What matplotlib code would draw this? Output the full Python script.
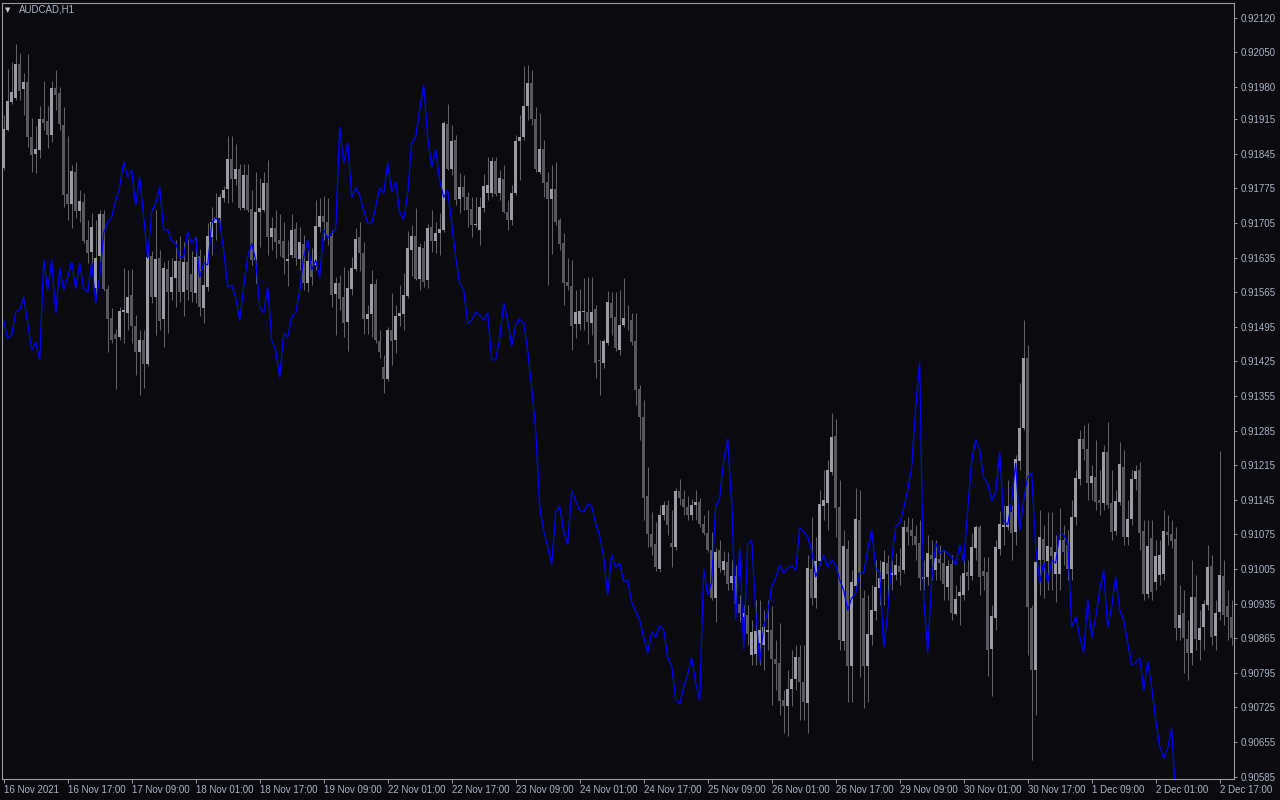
import matplotlib
matplotlib.use("Agg")
import matplotlib.pyplot as plt
import numpy as np

# AUDCAD H1 candles, prices in points (1e-5)
open_pts = [
    91817, 91893, 91950, 91958, 92027, 91976, 91990, 91879, 91845, 91853,
    91915, 91911, 91883, 91978, 91968, 91903, 91763, 91743, 91809, 91729,
    91747, 91670, 91646, 91573, 91638, 91723, 91571, 91513, 91480, 91474,
    91525, 91523, 91559, 91496, 91444, 91468, 91420, 91638, 91555, 91634,
    91511, 91612, 91565, 91593, 91628, 91565, 91626, 91602, 91563, 91638,
    91533, 91575, 91676, 91705, 91715, 91755, 91773, 91834, 91794, 91814,
    91735, 91802, 91733, 91630, 91727, 91731, 91786, 91676, 91695, 91670,
    91668, 91628, 91640, 91693, 91632, 91662, 91583, 91628, 91620, 91697,
    91719, 91707, 91678, 91561, 91583, 91555, 91504, 91571, 91612, 91676,
    91644, 91511, 91521, 91581, 91466, 91414, 91389, 91488, 91468, 91517,
    91521, 91557, 91650, 91678, 91592, 91654, 91589, 91697, 91668, 91684,
    91691, 91905, 91814, 91873, 91753, 91778, 91757, 91733, 91701, 91691,
    91735, 91766, 91766, 91830, 91766, 91794, 91727, 91711, 91766, 91871,
    91879, 91942, 91988, 91915, 91808, 91855, 91788, 91753, 91774, 91711,
    91664, 91585, 91577, 91500, 91500, 91525, 91525, 91502, 91531, 91428,
    91422, 91462, 91543, 91515, 91448, 91498, 91509, 91509, 91466, 91369,
    91312, 91152, 91076, 91055, 91005, 91114, 91134, 91057, 91049, 91163,
    91146, 91130, 91114, 91134, 91140, 91096, 91078, 91043, 90946, 91043,
    91003, 91019, 90977, 90991, 90934, 90908, 90912, 90831, 90833, 90855,
    90851, 90878, 90882, 90823, 90815, 90740, 90728, 90762, 90782, 90827,
    90776, 90734, 91005, 90946, 91021, 91132, 91138, 91201, 91274, 91130,
    90859, 91045, 90809, 90970, 91104, 90946, 90809, 90871, 90920, 90966,
    90985, 91017, 90993, 90993, 91011, 91003, 91090, 91084, 91072, 91057,
    90985, 90989, 91033, 91003, 91025, 91017, 90969, 91015, 90914, 90950,
    90952, 90999, 90991, 91047, 91090, 91001, 90999, 90843, 90906, 91045,
    91090, 91090, 91120, 91080, 91223, 91290, 91432, 90926, 90801, 91023,
    91065, 91021, 91049, 90995, 90995, 91063, 91053, 91005, 91110, 91187,
    91268, 91248, 91179, 91191, 91144, 91138, 91242, 91138, 91082, 91140,
    91211, 91070, 91106, 91187, 91205, 91082, 90954, 91067, 90978, 90993,
    90995, 91080, 91076, 91065, 90886, 90916, 90863, 90835, 90948, 90861,
    90888, 90932, 91011, 90869, 90918, 90991, 90930, 90908,
]
high_pts = [
    91924, 92017, 92031, 92067, 92049, 92008, 92047, 91918, 91901, 91942,
    91992, 91942, 91992, 92014, 91980, 91940, 91881, 91822, 91828, 91772,
    91765, 91711, 91725, 91711, 91731, 91731, 91579, 91533, 91490, 91535,
    91614, 91610, 91612, 91519, 91488, 91488, 91646, 91648, 91731, 91650,
    91626, 91630, 91634, 91670, 91678, 91666, 91672, 91648, 91676, 91652,
    91640, 91705, 91737, 91765, 91765, 91779, 91881, 91881, 91865, 91824,
    91824, 91824, 91772, 91808, 91796, 91808, 91832, 91717, 91731, 91723,
    91707, 91670, 91723, 91707, 91697, 91680, 91650, 91654, 91751, 91755,
    91759, 91755, 91691, 91595, 91599, 91616, 91610, 91636, 91695, 91707,
    91666, 91539, 91610, 91591, 91488, 91438, 91494, 91563, 91539, 91579,
    91604, 91689, 91701, 91735, 91664, 91668, 91703, 91731, 91707, 91725,
    91912, 91946, 91903, 91883, 91806, 91802, 91768, 91757, 91757, 91757,
    91804, 91838, 91838, 91838, 91812, 91822, 91751, 91782, 91883, 91924,
    92023, 92025, 92014, 91940, 91928, 91873, 91808, 91822, 91828, 91715,
    91685, 91634, 91630, 91569, 91571, 91594, 91596, 91596, 91539, 91468,
    91470, 91567, 91565, 91565, 91569, 91594, 91539, 91523, 91523, 91377,
    91347, 91211, 91120, 91100, 91134, 91142, 91144, 91124, 91169, 91187,
    91165, 91152, 91146, 91165, 91148, 91114, 91124, 91080, 91047, 91063,
    91041, 91039, 91023, 91013, 90952, 90932, 90932, 90902, 90942, 90942,
    90922, 90942, 90930, 90861, 90896, 90760, 90801, 90841, 90851, 90851,
    90851, 91033, 91110, 91069, 91165, 91205, 91225, 91320, 91308, 91185,
    91084, 91063, 91003, 91169, 91165, 90962, 90952, 90972, 91023, 91023,
    91043, 91033, 91023, 91037, 91047, 91104, 91110, 91108, 91094, 91104,
    91023, 91074, 91063, 91063, 91053, 91043, 91023, 91033, 90972, 90993,
    91023, 91023, 91078, 91094, 91094, 91029, 91029, 90932, 91063, 91122,
    91134, 91185, 91134, 91236, 91381, 91509, 91458, 90932, 91023, 91124,
    91094, 91120, 91120, 91074, 91128, 91094, 91084, 91144, 91205, 91286,
    91296, 91300, 91215, 91266, 91205, 91256, 91302, 91205, 91165, 91262,
    91246, 91144, 91205, 91215, 91221, 91104, 91104, 91104, 91063, 91063,
    91124, 91114, 91104, 91090, 90972, 90962, 90902, 91023, 90993, 90922,
    90942, 91053, 91033, 90942, 91244, 91023, 90962, 90942,
]
low_pts = [
    91813, 91891, 91945, 91954, 91954, 91924, 91859, 91809, 91807, 91837,
    91893, 91857, 91869, 91934, 91893, 91737, 91711, 91695, 91715, 91707,
    91664, 91624, 91624, 91555, 91626, 91567, 91444, 91462, 91369, 91468,
    91462, 91488, 91462, 91397, 91357, 91371, 91416, 91543, 91478, 91488,
    91454, 91482, 91549, 91535, 91545, 91517, 91549, 91545, 91543, 91517,
    91502, 91567, 91640, 91670, 91695, 91747, 91745, 91747, 91782, 91731,
    91731, 91727, 91620, 91583, 91656, 91727, 91640, 91650, 91634, 91638,
    91602, 91577, 91634, 91620, 91610, 91569, 91565, 91579, 91610, 91687,
    91670, 91660, 91535, 91478, 91529, 91474, 91446, 91559, 91608, 91608,
    91480, 91480, 91474, 91462, 91432, 91361, 91385, 91418, 91442, 91496,
    91488, 91553, 91598, 91590, 91569, 91575, 91573, 91646, 91644, 91640,
    91687, 91812, 91802, 91741, 91725, 91731, 91697, 91677, 91697, 91660,
    91727, 91751, 91758, 91760, 91751, 91725, 91691, 91701, 91761, 91792,
    91873, 91913, 91903, 91809, 91804, 91757, 91579, 91642, 91701, 91650,
    91539, 91569, 91448, 91472, 91488, 91488, 91460, 91478, 91391, 91357,
    91412, 91458, 91478, 91446, 91438, 91494, 91488, 91458, 91337, 91266,
    91104, 91049, 91033, 91001, 90999, 91104, 91074, 91009, 91043, 91134,
    91114, 91104, 91104, 91104, 91090, 91074, 91039, 90942, 90898, 90999,
    90993, 90962, 90962, 90922, 90898, 90892, 90851, 90811, 90811, 90811,
    90801, 90841, 90730, 90760, 90710, 90673, 90667, 90728, 90760, 90699,
    90699, 90673, 90932, 90926, 91013, 91104, 91084, 91195, 91070, 90841,
    90841, 90736, 90736, 90962, 90786, 90724, 90736, 90851, 90902, 90932,
    90932, 90942, 90962, 90983, 90973, 90997, 91053, 91053, 91023, 90962,
    90962, 90973, 90983, 90983, 90983, 90942, 90942, 90902, 90912, 90892,
    90942, 90962, 90983, 91023, 90952, 90962, 90788, 90748, 90882, 91033,
    91053, 91084, 91023, 91053, 91205, 91286, 90831, 90619, 90710, 90952,
    90946, 90962, 90962, 90938, 90962, 91013, 90983, 90983, 91094, 91175,
    91225, 91144, 91144, 91124, 91114, 91124, 91128, 91063, 91074, 91134,
    91053, 91053, 91094, 91165, 91043, 90942, 90946, 90942, 90962, 90973,
    90983, 91053, 91047, 90861, 90861, 90795, 90780, 90811, 90841, 90821,
    90841, 90922, 90851, 90841, 90902, 90892, 90861, 90851,
]
close_pts = [
    91895, 91952, 91970, 92027, 91972, 91990, 91879, 91843, 91855, 91915,
    91907, 91883, 91978, 91964, 91905, 91761, 91743, 91811, 91729, 91749,
    91668, 91644, 91697, 91634, 91723, 91571, 91511, 91468, 91470, 91527,
    91528, 91555, 91496, 91444, 91468, 91420, 91636, 91555, 91632, 91506,
    91614, 91565, 91595, 91628, 91565, 91626, 91569, 91565, 91636, 91535,
    91579, 91678, 91707, 91715, 91757, 91771, 91834, 91794, 91814, 91735,
    91802, 91731, 91630, 91727, 91735, 91786, 91676, 91695, 91666, 91662,
    91634, 91632, 91691, 91634, 91666, 91583, 91628, 91595, 91699, 91719,
    91707, 91678, 91559, 91583, 91551, 91502, 91573, 91614, 91672, 91644,
    91511, 91521, 91581, 91468, 91444, 91389, 91488, 91466, 91517, 91523,
    91559, 91654, 91678, 91592, 91656, 91585, 91695, 91668, 91684, 91693,
    91907, 91814, 91871, 91751, 91778, 91757, 91731, 91701, 91703, 91737,
    91780, 91782, 91830, 91763, 91796, 91727, 91711, 91766, 91871, 91879,
    91942, 91988, 91915, 91814, 91855, 91786, 91753, 91774, 91707, 91662,
    91583, 91577, 91496, 91525, 91527, 91526, 91504, 91525, 91422, 91426,
    91466, 91545, 91513, 91452, 91498, 91513, 91508, 91464, 91367, 91312,
    91148, 91076, 91049, 91009, 91114, 91134, 91094, 91049, 91163, 91148,
    91130, 91114, 91134, 91140, 91096, 91078, 91043, 90946, 91039, 91007,
    91021, 90975, 90991, 90934, 90916, 90916, 90874, 90878, 90880, 90882,
    90888, 90882, 90823, 90813, 90738, 90728, 90762, 90782, 90827, 90776,
    90736, 91007, 90946, 91021, 91136, 91144, 91205, 91272, 91128, 90861,
    91051, 90809, 90978, 91106, 90997, 90809, 90874, 90922, 90968, 90987,
    91019, 90995, 90997, 91013, 90999, 91090, 91080, 91072, 91053, 90987,
    90989, 91037, 91025, 91027, 91017, 90975, 91011, 90916, 90944, 90958,
    90997, 90991, 91049, 91090, 90989, 90991, 90841, 90910, 91049, 91096,
    91094, 91132, 91078, 91227, 91290, 91432, 90928, 90801, 91019, 91070,
    91023, 91051, 91031, 91039, 91063, 91039, 91005, 91110, 91189, 91268,
    91248, 91179, 91193, 91140, 91138, 91242, 91134, 91080, 91142, 91217,
    91070, 91106, 91187, 91203, 91078, 90954, 91051, 90958, 91031, 91033,
    91082, 91074, 91061, 90886, 90912, 90866, 90835, 90948, 90863, 90886,
    90934, 91009, 90867, 90916, 90993, 90912, 90908, 90865,
]

# blue overlay line, one value per bar (runs off the bottom near the end)
line_pts = [
    91508, 91472, 91478, 91525, 91529, 91555, 91502, 91448, 91464, 91428,
    91630, 91569, 91630, 91523, 91614, 91569, 91595, 91626, 91573, 91624,
    91573, 91565, 91624, 91543, 91595, 91685, 91707, 91717, 91751, 91778,
    91828, 91798, 91812, 91741, 91798, 91717, 91634, 91727, 91745, 91778,
    91691, 91691, 91670, 91664, 91636, 91636, 91687, 91664, 91676, 91595,
    91624, 91620, 91705, 91715, 91707, 91650, 91575, 91579, 91555, 91508,
    91575, 91636, 91664, 91630, 91535, 91523, 91575, 91468, 91448, 91393,
    91482, 91474, 91515, 91523, 91569, 91636, 91670, 91610, 91630, 91595,
    91691, 91674, 91685, 91691, 91899, 91826, 91867, 91757, 91776, 91761,
    91731, 91705, 91705, 91737, 91776, 91765, 91826, 91768, 91788, 91727,
    91713, 91765, 91867, 91879, 91934, 91984, 91879, 91818, 91853, 91792,
    91757, 91772, 91705, 91636, 91583, 91569, 91502, 91508, 91525, 91519,
    91508, 91523, 91428, 91428, 91472, 91543, 91507, 91456, 91498, 91511,
    91502, 91448, 91371, 91286, 91132, 91082, 91051, 91013, 91120, 91132,
    91082, 91055, 91163, 91144, 91124, 91120, 91136, 91132, 91098, 91072,
    91029, 90952, 91033, 91009, 91017, 90979, 90983, 90936, 90920, 90902,
    90867, 90835, 90878, 90867, 90890, 90882, 90825, 90809, 90740, 90732,
    90766, 90793, 90825, 90774, 90740, 91005, 90952, 90979, 91132, 91148,
    91225, 91268, 91140, 90902, 91047, 90843, 91055, 91063, 90922, 90815,
    90888, 90918, 90969, 90987, 91013, 90997, 91007, 91011, 91003, 91088,
    91080, 91070, 91043, 90989, 91013, 91033, 91009, 91023, 91013, 90983,
    90962, 90922, 90946, 90956, 90997, 90997, 91043, 91084, 91007, 90999,
    90847, 90916, 91023, 91090, 91098, 91128, 91165, 91211, 91333, 91424,
    90948, 90835, 90983, 91057, 91037, 91043, 91037, 91029, 91013, 91053,
    91019, 91124, 91225, 91266, 91246, 91189, 91179, 91144, 91159, 91242,
    91104, 91094, 91144, 91219, 91084, 91144, 91191, 91199, 91049, 90977,
    91019, 90977, 91023, 91017, 91078, 91074, 91059, 90888, 90908, 90867,
    90837, 90942, 90867, 90906, 90962, 91003, 90888, 90928, 90989, 90922,
    90902, 90855, 90811, 90815, 90825, 90760, 90817, 90766, 90699, 90645,
    90623, 90643, 90683, 90538,
]

price_labels = ["0.92120", "0.92050", "0.91980", "0.91915", "0.91845", "0.91775",
                "0.91705", "0.91635", "0.91565", "0.91495", "0.91425", "0.91355",
                "0.91285", "0.91215", "0.91145", "0.91075", "0.91005", "0.90935",
                "0.90865", "0.90795", "0.90725", "0.90655", "0.90585"]
time_labels = ["16 Nov 2021", "16 Nov 17:00", "17 Nov 09:00", "18 Nov 01:00",
               "18 Nov 17:00", "19 Nov 09:00", "22 Nov 01:00", "22 Nov 17:00",
               "23 Nov 09:00", "24 Nov 01:00", "24 Nov 17:00", "25 Nov 09:00",
               "26 Nov 01:00", "26 Nov 17:00", "29 Nov 09:00", "30 Nov 01:00",
               "30 Nov 17:00", "1 Dec 09:00", "2 Dec 01:00", "2 Dec 17:00"]
bars_per_label = 16

o = np.array(open_pts) / 1e5
h = np.array(high_pts) / 1e5
l = np.array(low_pts) / 1e5
c = np.array(close_pts) / 1e5
line = np.array(line_pts) / 1e5
assert len(o) == len(h) == len(l) == len(c)

h = np.maximum(h, np.maximum(o, c))
l = np.minimum(l, np.minimum(o, c))
idx = np.arange(len(c))

bg = "#0a0a0f"
txt = "#a9b3c2"
frame = "#9c9ca0"
bull_col = "#9c9ca5"
bear_col = "#58585e"
wick_col = "#606066"

fig = plt.figure(figsize=(12.8, 8), dpi=100, facecolor=bg)
ax = fig.add_axes([2 / 1280, 21 / 800, 1232 / 1280, 776 / 800], facecolor=bg)

ax.vlines(idx, l, h, color=wick_col, linewidth=0.75, zorder=2)
up = c >= o
body_h = np.maximum(np.abs(c - o), 0.000015)
body_b = np.minimum(o, c)
ax.bar(idx[up], body_h[up], bottom=body_b[up], width=0.72, color=bull_col,
       linewidth=0, zorder=3)
ax.bar(idx[~up], body_h[~up], bottom=body_b[~up], width=0.72, color=bear_col,
       linewidth=0, zorder=3)

ax.plot(np.arange(len(line)), line, color="#0000ff", linewidth=0.9, zorder=4)

ax.set_xlim(-0.425, -0.425 + 1232 / 4)
ax.set_ylim(0.90580, 0.92150)

ax.yaxis.tick_right()
ax.set_yticks([float(s) for s in price_labels])
ax.set_yticklabels(price_labels)
ax.set_xticks(np.arange(len(time_labels)) * bars_per_label)
ax.set_xticklabels(time_labels, ha="left")

for lab in ax.get_xticklabels() + ax.get_yticklabels():
    lab.set_fontfamily("Liberation Sans")
    lab.set_fontsize(7)
    lab.set_color(txt)
ax.tick_params(axis="y", direction="out", length=2.5, width=0.7, color=frame, pad=2)
ax.tick_params(axis="x", direction="out", length=3, width=0.7, color=frame, pad=1.5)

for sp in ax.spines.values():
    sp.set_color(frame)
    sp.set_linewidth(0.8)

fig.text(5 / 1280, 1 - 10 / 800, "\u25bc", fontsize=5, color="#c8c8c8",
         va="center", ha="left", family="DejaVu Sans")
fig.text(19 / 1280, 1 - 10 / 800, "AUDCAD,H1", fontsize=7, color=txt,
         va="center", ha="left", family="Liberation Sans")

fig.savefig("out.png", dpi=100, facecolor=bg)
